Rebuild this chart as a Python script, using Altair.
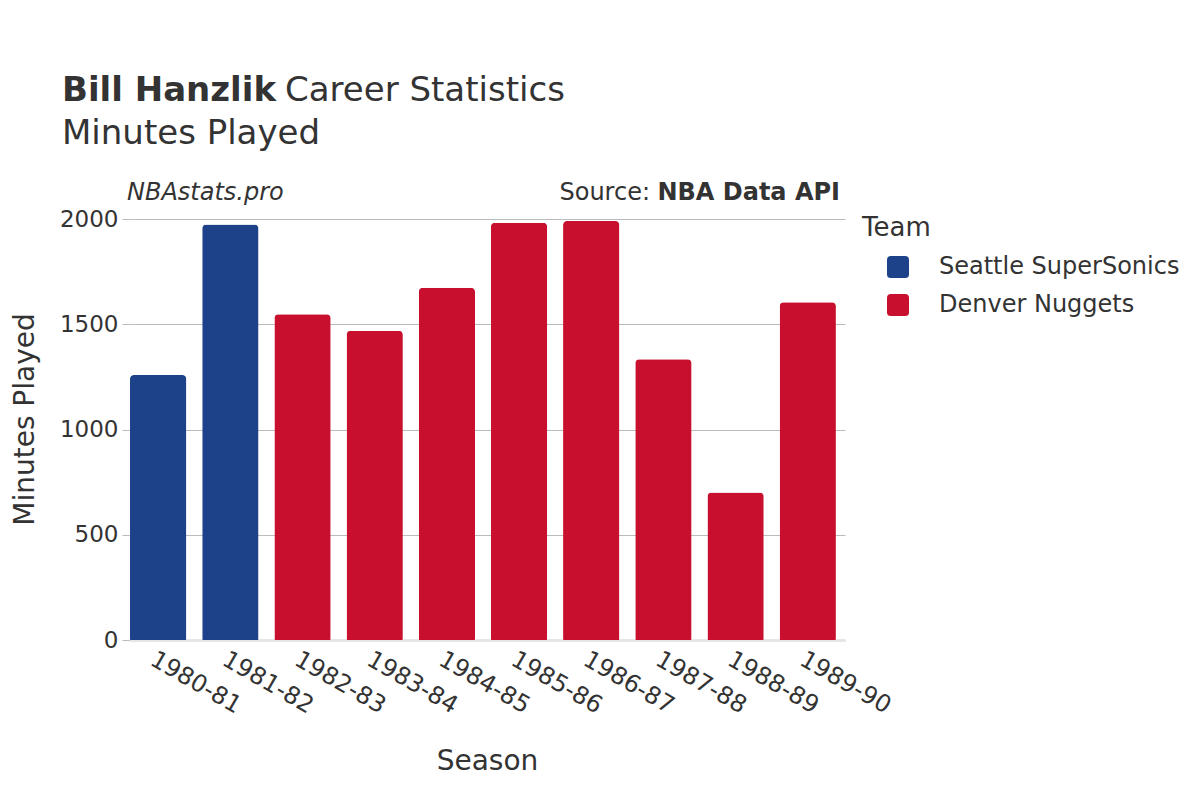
import altair as alt
import pandas as pd

seasons = ["1980-81", "1981-82", "1982-83", "1983-84", "1984-85",
           "1985-86", "1986-87", "1987-88", "1988-89", "1989-90"]
minutes = [1259, 1974, 1547, 1469, 1673, 1982, 1990, 1334, 701, 1605]
teams = ["Seattle SuperSonics", "Seattle SuperSonics"] + ["Denver Nuggets"] * 8
team_order = ["Seattle SuperSonics", "Denver Nuggets"]
team_colors = ["#1D428A", "#C8102E"]

df = pd.DataFrame({"Season": seasons, "Minutes": minutes, "Team": teams})

FONT = "DejaVu Sans"
TXT = "#333333"

rounded = ("M -0.65 -1 L 0.65 -1 Q 1 -1 1 -0.65 L 1 0.65 Q 1 1 0.65 1 "
           "L -0.65 1 Q -1 1 -1 0.65 L -1 -0.65 Q -1 -1 -0.65 -1 Z")

bars = alt.Chart(df).mark_bar(
    cornerRadiusTopLeft=4, cornerRadiusTopRight=4,
    cornerRadiusBottomLeft=1, cornerRadiusBottomRight=1,
).encode(
    x=alt.X("Season:N", sort=seasons,
            scale=alt.Scale(paddingInner=0.22, paddingOuter=0.07, align=0.1),
            axis=alt.Axis(title="Season", labelAngle=30, labelAlign="left",
                          labelBaseline="top", labelFontSize=24, labelColor=TXT,
                          labelPadding=7, ticks=False, domainColor="#e6e6e6",
                          domainWidth=3, titleFontSize=28, titleColor=TXT,
                          titleFontWeight="normal", titlePadding=30, zindex=0)),
    y=alt.Y("Minutes:Q", scale=alt.Scale(domain=[0, 2000]),
            axis=alt.Axis(title="Minutes Played", values=[0, 500, 1000, 1500, 2000],
                          format="d",
                          labelFontSize=23, labelColor=TXT, labelPadding=4,
                          tickSize=7, tickColor="#bbbbbb", gridColor="#bbbbbb",
                          domain=False, titleFontSize=28, titleColor=TXT,
                          titleFontWeight="normal", titleX=-90, titleY=200)),
    color=alt.Color("Team:N",
                    scale=alt.Scale(domain=team_order, range=team_colors),
                    legend=alt.Legend(title="Team", titleFontSize=26, titleColor=TXT,
                                      titleFontWeight="normal", labelFontSize=24,
                                      labelColor=TXT, symbolType=rounded,
                                      symbolSize=484, symbolOpacity=1,
                                      symbolStrokeWidth=0, labelLimit=400,
                                      symbolOffset=24, labelOffset=29,
                                      rowPadding=14, titlePadding=14,
                                      orient="none", legendX=733, legendY=-4)),
)

def txt(text, x, y, size, weight="normal", style="normal", align="left"):
    return alt.Chart(pd.DataFrame({"t": [text]})).mark_text(
        align=align, baseline="alphabetic", fontSize=size, fontWeight=weight,
        fontStyle=style, color=TXT, font=FONT,
    ).encode(text="t:N", x=alt.value(x), y=alt.value(y))

texts = [
    txt("Bill Hanzlik", -67, -118, 34, weight="bold"),
    txt("Career Statistics", 156, -118, 34),
    txt("Minutes Played", -67, -75, 34),
    txt("NBAstats.pro", -2, -19, 24, style="italic"),
    txt("Source:", 521, -19, 24, align="right"),
    txt("NBA Data API", 711, -19, 24, weight="bold", align="right"),
]

chart = alt.layer(bars, *texts).properties(
    width=716, height=421,
    autosize=alt.AutoSizeParams(type="none"),
    padding={"left": 121, "top": 211, "right": 347, "bottom": 152},
).configure(font=FONT).configure_view(stroke=None)

chart.save("out.html", embed_options={"renderer": "svg", "actions": False})
